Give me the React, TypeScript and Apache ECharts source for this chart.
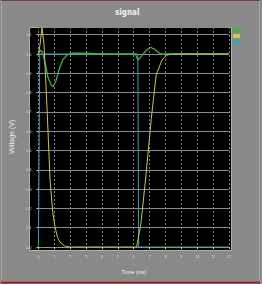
import React, { useEffect, useRef } from "react";
import * as echarts from "echarts";

const xTicks = [0, 12];
const yRange = [0, 1.14];

const seriesNames = ["v(mid)", "v(out)", "v(in)"];

const greenData: [number, number][] = [
  [0, 1.0], [0.12, 1.02], [0.25, 1.01], [0.4, 0.96], [0.6, 0.88], [0.8, 0.84], [0.92, 0.83],
  [1.1, 0.86], [1.3, 0.92], [1.53, 0.97], [1.8, 0.995], [2.1, 1.004], [3, 1.004], [4, 1.001],
  [5, 1.0], [6.1, 1.0], [6.2, 0.98], [6.3, 0.97], [6.5, 0.99], [6.8, 1.02], [7.05, 1.035],
  [7.3, 1.025], [7.6, 1.005], [7.8, 1.0], [12, 1.0],
];

const yellowData: [number, number][] = [
  [0, 1.0], [0.1, 1.05], [0.22, 1.135], [0.35, 1.05], [0.55, 0.7], [0.73, 0.347],
  [0.9, 0.18], [1.04, 0.104], [1.2, 0.05], [1.35, 0.026], [1.65, 0.005], [2.02, 0.0],
  [6.12, 0.0], [6.18, 0.0], [6.45, 0.12], [6.74, 0.347], [7.1, 0.66], [7.41, 0.891],
  [7.78, 0.969], [8.08, 0.995], [8.5, 1.0], [12, 1.0],
];

const cyanData: [number, number][] = [
  [0, 0], [0.04, 0], [0.08, 1.0], [6.26, 1.0], [6.31, 0], [12, 0],
];

export default function App() {
  const ref = useRef<HTMLDivElement>(null);
  useEffect(() => {
    if (!ref.current) return;
    const chart = echarts.init(ref.current, undefined, { renderer: "svg" });
    chart.setOption({
      animation: false,
      backgroundColor: "#898989",
      title: {
        text: "signal",
        left: 115,
        top: 8,
        padding: 0,
        textStyle: { fontSize: 8, color: "#f2f2f2", fontWeight: "bold", fontFamily: "DejaVu Sans Condensed, sans-serif" },
      },
      legend: {
        data: seriesNames,
        orient: "vertical",
        left: 233,
        top: 28,
        padding: 0,
        itemWidth: 7,
        itemHeight: 4,
        itemGap: 2,
        icon: "rect",
        textStyle: { fontSize: 2, color: "#999999" },
      },
      grid: { left: 33, right: 33, top: 27, bottom: 37 },
      graphic: [
        { type: "rect", z: -10, silent: true, shape: { x: 1.5, y: 0.5, width: 258, height: 281 }, style: { fill: "none", stroke: "#a6a6a6", lineWidth: 1 } },
        { type: "line", z: -10, silent: true, shape: { x1: 1, y1: 0.5, x2: 260, y2: 0.5 }, style: { stroke: "#6e4242", lineWidth: 1 } },
        { type: "line", z: -10, silent: true, shape: { x1: 1, y1: 282.5, x2: 260, y2: 282.5 }, style: { stroke: "#9a1f1f", lineWidth: 2 } },
        { type: "rect", z: -5, silent: true, shape: { x: 29.5, y: 27.5, width: 202, height: 223 }, style: { fill: "#000000", stroke: "#b0b0b0", lineWidth: 1 } },
      ],
      xAxis: {
        type: "value",
        min: xTicks[0],
        max: xTicks[1],
        interval: 1,
        offset: 4,
        name: "Time (ns)",
        nameLocation: "middle",
        nameGap: 18,
        nameTextStyle: { fontSize: 6, color: "#f0f0f0" },
        axisLine: { show: false },
        axisTick: { show: true, length: 2, lineStyle: { color: "#d0d0d0" } },
        minorTick: { show: true, splitNumber: 2, length: 1, lineStyle: { color: "#c0c0c0" } },
        axisLabel: { fontSize: 4, color: "#d8d8d8", margin: 3 },
        splitLine: { show: true, lineStyle: { color: "#7c7c7c", type: [2, 2], width: 1 } },
      },
      yAxis: {
        type: "value",
        min: yRange[0],
        max: yRange[1],
        interval: 0.1,
        offset: 4,
        name: "Voltage (V)",
        nameLocation: "middle",
        nameGap: 18,
        nameTextStyle: { fontSize: 7, color: "#eeeeee" },
        axisLine: { show: false },
        axisTick: { show: true, length: 2, lineStyle: { color: "#d0d0d0" } },
        axisLabel: {
          fontSize: 4,
          color: "#d8d8d8",
          margin: 3,
          showMaxLabel: false,
          formatter: (v: number) => v.toFixed(1),
        },
        splitLine: { show: true, lineStyle: { color: "#8e8e8e", width: 1 } },
      },
      series: [
        {
          name: seriesNames[0],
          type: "line",
          data: greenData,
          showSymbol: false,
          z: 3,
          lineStyle: { color: "#3fb048", width: 1.3 },
          itemStyle: { color: "#3fb048" },
        },
        {
          name: seriesNames[1],
          type: "line",
          data: yellowData,
          showSymbol: false,
          z: 4,
          lineStyle: { color: "#c8c84a", width: 1 },
          itemStyle: { color: "#c8c84a" },
        },
        {
          name: seriesNames[2],
          type: "line",
          data: cyanData,
          showSymbol: false,
          z: 2,
          lineStyle: { color: "#35a3ad", width: 1 },
          itemStyle: { color: "#35a3ad" },
        },
      ],
    });
    return () => chart.dispose();
  }, []);
  return <div ref={ref} style={{ position: "fixed", left: 0, top: 0, width: 262, height: 284 }} />;
}
